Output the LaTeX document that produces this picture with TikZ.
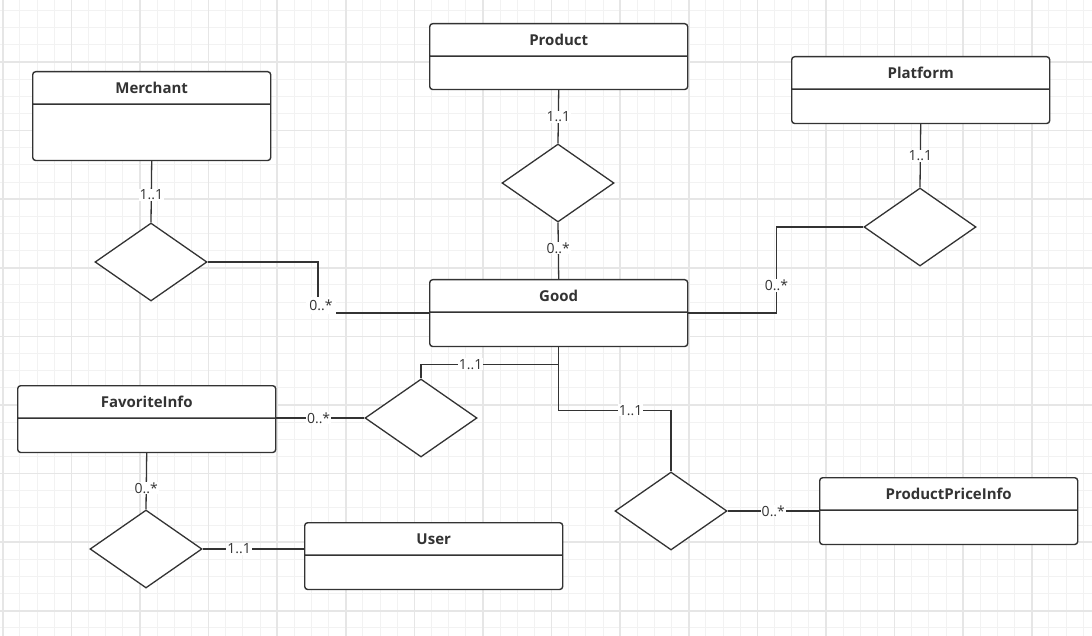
\documentclass[tikz,border=0pt]{standalone}
\usepackage{fontspec}
\setmainfont{Open Sans}
\usetikzlibrary{shapes.geometric, shapes.multipart}
\definecolor{ink}{HTML}{333333}
\definecolor{gridminor}{HTML}{F2F2F2}
\definecolor{gridmajor}{HTML}{E6E6E6}

\begin{document}
\begin{tikzpicture}[
  x=1pt, y=-1pt,
  ent/.style={rectangle split, rectangle split parts=2, draw=ink,
              line width=1.4pt, rounded corners=3pt, fill=white,
              text width=258pt, inner xsep=0pt, inner ysep=0pt,
              align=center, anchor=north west, text=ink,
              font=\fontsize{15}{18}\selectfont\bfseries},
  rel/.style={diamond, draw=ink, line width=1.3pt, fill=white,
              minimum width=112pt, minimum height=78pt, inner sep=0pt},
  conn/.style={draw=ink, line width=1.3pt},
  card/.style={fill=white, inner sep=1pt, text=ink,
              font=\fontsize{14}{16}\selectfont},
  minor/.style={gridminor, line width=1pt},
  major/.style={gridmajor, line width=1.6pt}
]

% background grid
\useasboundingbox (0,0) rectangle (1092,636);
\fill[white] (0,0) rectangle (1092,636);
\begin{scope}
  \clip (0,0) rectangle (1092,636);
  \foreach \i in {0,...,64} \draw[minor] ({2.8+17.15*\i},0) -- ++(0,636);
  \foreach \j in {0,...,37} \draw[minor] (0,{-6.6+17.15*\j}) -- ++(1092,0);
  \foreach \i in {0,...,16} \draw[major] ({2.8+68.6*\i},0) -- ++(0,636);
  \foreach \j in {0,...,10} \draw[major] (0,{-6.6+68.6*\j}) -- ++(1092,0);
\end{scope}

% entities
\node[ent, text width=238pt] (merchant) at (32,71)
  {Merchant\rule[-10pt]{0pt}{31pt}\nodepart{two}\rule{0pt}{55pt}};
\node[ent] (product) at (429,23)
  {Product\rule[-10pt]{0pt}{31pt}\nodepart{two}\rule{0pt}{32pt}};
\node[ent] (platform) at (791,56)
  {Platform\rule[-10pt]{0pt}{31pt}\nodepart{two}\rule{0pt}{33pt}};
\node[ent] (good) at (429,279)
  {Good\rule[-10pt]{0pt}{31pt}\nodepart{two}\rule{0pt}{33pt}};
\node[ent] (fav) at (17,385)
  {FavoriteInfo\rule[-10pt]{0pt}{31pt}\nodepart{two}\rule{0pt}{33pt}};
\node[ent] (user) at (304,522)
  {User\rule[-10pt]{0pt}{31pt}\nodepart{two}\rule{0pt}{33pt}};
\node[ent] (ppi) at (819,477)
  {ProductPriceInfo\rule[-10pt]{0pt}{31pt}\nodepart{two}\rule{0pt}{33pt}};

% relationships
\node[rel] (mdia)  at (151,262) {};
\node[rel] (pdia)  at (558,183) {};
\node[rel] (pfdia) at (920,227) {};
\node[rel] (gfdia) at (421,418) {};
\node[rel] (gpdia) at (671,511) {};
\node[rel] (fudia) at (146,549) {};

% connectors
\draw[conn] (merchant.south) -- node[card, pos=0.55] {1..1} (mdia.north);
\draw[conn] (mdia.east) -| ([xshift=-111pt]good.west)
  node[card, inner sep=3pt, xshift=3pt, yshift=8pt] {0..*} -- (good.west);

\draw[conn] (product.south) -- node[card] {1..1} (pdia.north);
\draw[conn] (pdia.south) -- node[card, pos=0.45] {0..*} (good.north);

\draw[conn] (platform.south) -- node[card] {1..1} (pfdia.north);
\draw[conn] (pfdia.west) -| node[card, pos=0.84] {0..*}
  ([xshift=88pt]good.east) -- (good.east);

\draw[conn] (good.south) -- ++(0,17) -| node[card, pos=0.32] {1..1} (gfdia.north);
\draw[conn] (good.south) -- ++(0,63) -| node[card, pos=0.32] {1..1} (gpdia.north);

\draw[conn] (gfdia.west -| fav.east) -- node[card, pos=0.48] {0..*} (gfdia.west);
\draw[conn] (fav.south) -- node[card, pos=0.62] {0..*} (fudia.north);
\draw[conn] (fudia.east) -- node[card, pos=0.36] {1..1} (fudia.east -| user.west);
\draw[conn] (gpdia.east) -- node[card] {0..*} (gpdia.east -| ppi.west);

\end{tikzpicture}
\end{document}
